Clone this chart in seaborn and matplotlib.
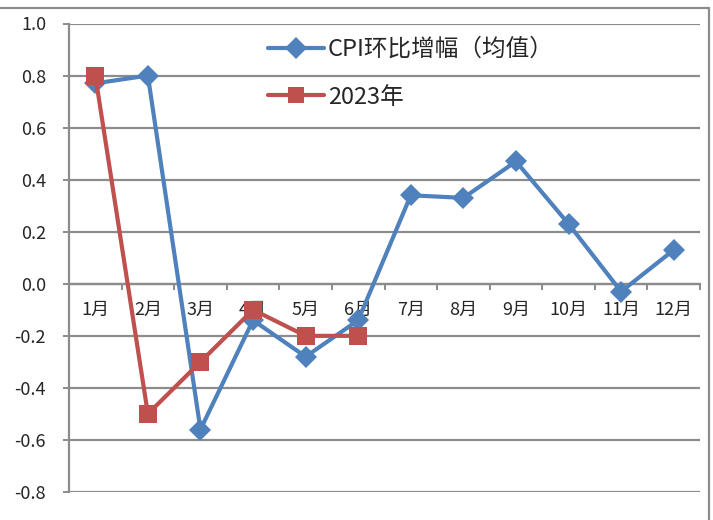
import numpy as np
import pandas as pd
import seaborn as sns
import matplotlib.pyplot as plt
from matplotlib.lines import Line2D
from matplotlib.ticker import FixedLocator

# ---- data ----
months = ["1月", "2月", "3月", "4月", "5月", "6月",
          "7月", "8月", "9月", "10月", "11月", "12月"]
cpi_avg = [0.77, 0.80, -0.56, -0.14, -0.28, -0.14,
           0.34, 0.33, 0.47, 0.23, -0.03, 0.13]
y2023 = [0.80, -0.50, -0.30, -0.10, -0.20, -0.20]
series_names = ["CPI环比增幅（均值）", "2023年"]
y_ticks = [-0.8, -0.6, -0.4, -0.2, 0.0, 0.2, 0.4, 0.6, 0.8, 1.0]

blue = "#4F81BD"
red = "#C0504D"
grid_gray = "#8C8C8C"

df = pd.concat([
    pd.DataFrame({"idx": np.arange(len(cpi_avg)), "value": cpi_avg,
                  "series": series_names[0]}),
    pd.DataFrame({"idx": np.arange(len(y2023)), "value": y2023,
                  "series": series_names[1]}),
], ignore_index=True)

sns.set_theme(style="white")
plt.rcParams["font.family"] = ["Noto Sans CJK SC", "DejaVu Sans"]

fig = plt.figure(figsize=(7.13, 5.20), dpi=100)
ax = fig.add_axes([69 / 713, 28 / 520, 631 / 713, 468.5 / 520])

sns.lineplot(data=df, x="idx", y="value", hue="series", style="series",
             hue_order=series_names, style_order=series_names,
             palette=[blue, red], markers=["D", "s"], dashes=False,
             linewidth=3, markersize=11.5, markeredgewidth=0, ax=ax)
# red series on top, bigger squares
lines = ax.get_lines()
lines[0].set_zorder(3)
lines[1].set_zorder(4)
lines[1].set_markersize(13.5)

ax.set_xlim(-0.5, len(months) - 0.5)
ax.set_ylim(-0.8, 1.0)
ax.set_xlabel("")
ax.set_ylabel("")

# y axis
ax.set_yticks(y_ticks)
ax.set_yticklabels([f"{v:.1f}" for v in y_ticks], fontsize=13)
ax.yaxis.grid(True, color=grid_gray, linewidth=1.6)
ax.set_axisbelow(True)
ax.tick_params(axis="y", which="major", direction="out", length=4.5,
               width=1.4, color=grid_gray, pad=12, left=True)

# x axis crossing at zero, labels under it
ax.spines["top"].set_visible(False)
ax.spines["right"].set_visible(False)
ax.spines["bottom"].set_position(("data", 0))
for s in ["left", "bottom"]:
    ax.spines[s].set_color(grid_gray)
    ax.spines[s].set_linewidth(1.6)
ax.set_xticks(np.arange(len(months)))
ax.set_xticklabels(months, fontsize=13)
ax.xaxis.set_minor_locator(FixedLocator(np.arange(-0.5, len(months), 1.0)))
ax.tick_params(axis="x", which="major", length=0, pad=12, bottom=True)
ax.tick_params(axis="x", which="minor", direction="out", length=4.5,
               width=1.4, color=grid_gray, bottom=True)

# legend
handles, labels = ax.get_legend_handles_labels()
ax.legend(handles, labels, loc="upper left",
          bbox_to_anchor=(256 / 713, 1 - 26 / 520), bbox_transform=fig.transFigure,
          frameon=False, fontsize=17, handlelength=2.4, handletextpad=0.15,
          labelspacing=1.05, borderpad=0)

# outer chart frame (top and right edges)
fig.add_artist(Line2D([0, 709 / 713], [1 - 8 / 520, 1 - 8 / 520],
                      transform=fig.transFigure, color=grid_gray, linewidth=1.6))
fig.add_artist(Line2D([709 / 713, 709 / 713], [0, 1 - 8 / 520],
                      transform=fig.transFigure, color=grid_gray, linewidth=1.6))

fig.savefig("out.png", dpi=100)
